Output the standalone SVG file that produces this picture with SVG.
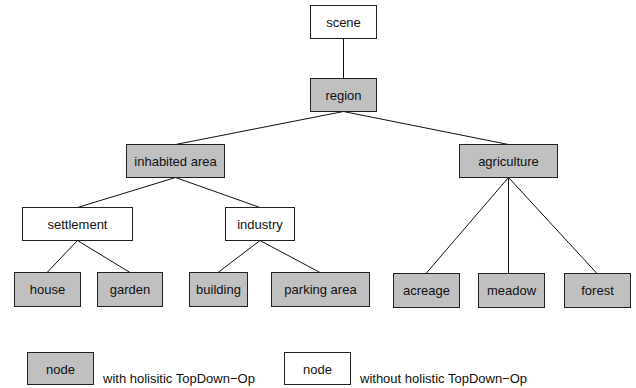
<svg xmlns="http://www.w3.org/2000/svg" width="636" height="388" viewBox="0 0 636 388">
<style>
rect{stroke:#222;stroke-width:1}
.g{fill:#c0c0c0}
.w{fill:#fff}
text{font-family:"Liberation Sans",Arial,sans-serif;font-size:13px;fill:#111;text-anchor:middle}
.s{text-anchor:start}
#connectors line{stroke:#111;stroke-width:1}
</style>
<rect width="636" height="388" fill="#fff" style="stroke:none"/>
<g id="connectors">
<line x1="343.5" y1="38.5" x2="343.5" y2="78.5"/>
<line x1="343.5" y1="111.5" x2="175.5" y2="144.5"/>
<line x1="343.5" y1="111.5" x2="508.5" y2="144.5"/>
<line x1="175.5" y1="177.5" x2="77.5" y2="207.5"/>
<line x1="175.5" y1="177.5" x2="260" y2="207.5"/>
<line x1="77.5" y1="240.5" x2="47" y2="272.5"/>
<line x1="77.5" y1="240.5" x2="130" y2="272.5"/>
<line x1="260" y1="240.5" x2="218" y2="272.5"/>
<line x1="260" y1="240.5" x2="320" y2="272.5"/>
<line x1="508.5" y1="177.5" x2="426" y2="273.5"/>
<line x1="508.5" y1="177.5" x2="508.5" y2="273.5"/>
<line x1="508.5" y1="177.5" x2="597" y2="273.5"/>
</g>
<g id="scene"><rect class="w" x="310.5" y="5.5" width="66" height="33"/><text x="343.5" y="26.5">scene</text></g>
<g id="region"><rect class="g" x="310.5" y="78.5" width="66" height="33"/><text x="343.5" y="99.5">region</text></g>
<g id="inhabited-area"><rect class="g" x="126.5" y="144.5" width="98" height="33"/><text x="175.5" y="165.5">inhabited area</text></g>
<g id="agriculture"><rect class="g" x="459.5" y="144.5" width="98" height="33"/><text x="508.5" y="165.5">agriculture</text></g>
<g id="settlement"><rect class="w" x="22.5" y="207.5" width="110" height="33"/><text x="77.5" y="228.5">settlement</text></g>
<g id="industry"><rect class="w" x="225.5" y="207.5" width="69" height="33"/><text x="260" y="228.5">industry</text></g>
<g id="house"><rect class="g" x="14.5" y="272.5" width="66" height="34"/><text x="47.5" y="294">house</text></g>
<g id="garden"><rect class="g" x="97.5" y="272.5" width="65" height="34"/><text x="130" y="294">garden</text></g>
<g id="building"><rect class="g" x="189.5" y="272.5" width="58" height="34"/><text x="218.5" y="294">building</text></g>
<g id="parking-area"><rect class="g" x="271.5" y="272.5" width="98" height="34"/><text x="320.5" y="294">parking area</text></g>
<g id="acreage"><rect class="g" x="393.5" y="273.5" width="66" height="34"/><text x="426.5" y="295">acreage</text></g>
<g id="meadow"><rect class="g" x="478.5" y="273.5" width="66" height="34"/><text x="511.5" y="295">meadow</text></g>
<g id="forest"><rect class="g" x="564.5" y="273.5" width="66" height="34"/><text x="597.5" y="295">forest</text></g>
<g id="legend-with"><rect class="g" x="27.5" y="352.5" width="66" height="32"/><text x="60.5" y="374">node</text><text class="s" x="103" y="383">with holisitic TopDown−Op</text></g>
<g id="legend-without"><rect class="w" x="284.5" y="352.5" width="66" height="32"/><text x="317.5" y="374">node</text><text class="s" x="360" y="383">without holistic TopDown−Op</text></g>
</svg>
